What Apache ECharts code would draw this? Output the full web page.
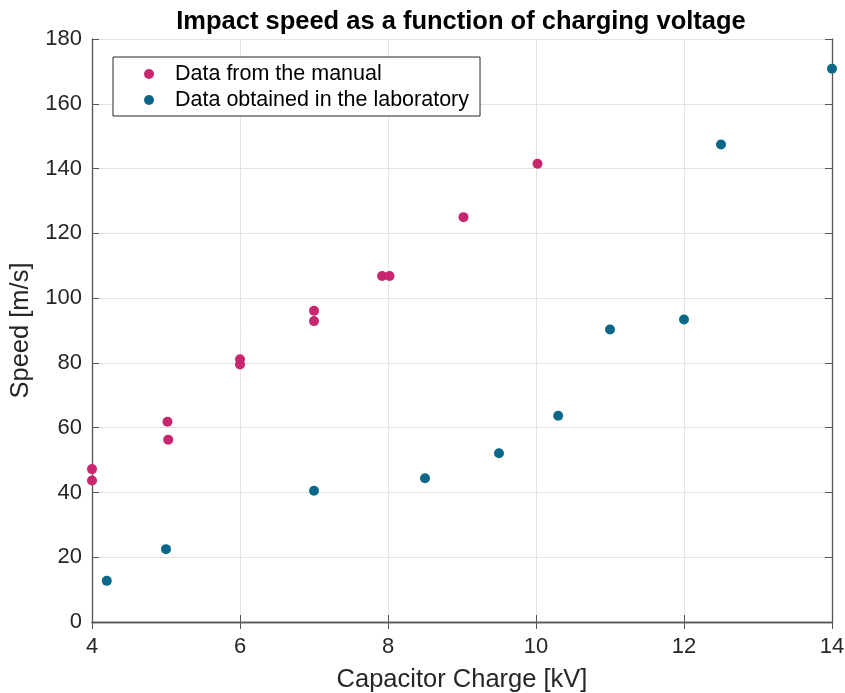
<!DOCTYPE html>
<html><head><meta charset="utf-8">
<script src="https://cdn.jsdelivr.net/npm/echarts@6/dist/echarts.min.js"></script>
<style>html,body{margin:0;padding:0;background:#fff}#c{width:845px;height:693px}</style>
</head><body><div id="c"></div>
<script>
const manualX = [4, 4, 5.02, 5.03, 6, 6, 7, 7, 7.92, 8.02, 9.02, 10.02];
const manualY = [47.2, 43.7, 61.8, 56.3, 81.1, 79.5, 96.1, 92.9, 106.8, 106.8, 125, 141.5];
const labX = [4.2, 5, 7, 8.5, 9.5, 10.3, 11, 12, 12.5, 14];
const labY = [12.7, 22.5, 40.5, 44.4, 52.1, 63.7, 90.3, 93.4, 147.4, 170.8];
const xTicks = [4, 6, 8, 10, 12, 14];
const yTicks = [0, 20, 40, 60, 80, 100, 120, 140, 160, 180];
const seriesNames = ['Data from the manual', 'Data obtained in the laboratory'];

const FONT = 'Liberation Sans';
const axisCol = '#555555';
const chart = echarts.init(document.getElementById('c'), null, {renderer: 'canvas'});
const pair = (xs, ys) => xs.map((x, i) => [x, ys[i]]);
const baseAxis = {
  axisLine: {show: true, lineStyle: {color: axisCol, width: 1.3}},
  axisTick: {show: true, inside: true, length: 7, lineStyle: {color: axisCol}},
};
chart.setOption({
  backgroundColor: '#fff',
  animation: false,
  title: {
    text: 'Impact speed as a function of charging voltage',
    left: 456, top: 4, textAlign: 'center',
    textStyle: {fontFamily: FONT, fontWeight: 'bold', fontSize: 25.5, color: '#000'}
  },
  legend: {
    left: 113, top: 57, orient: 'vertical',
    padding: [6, 11, 5, 31],
    itemGap: 4,
    borderColor: '#262626', borderWidth: 1,
    backgroundColor: '#fff',
    icon: 'circle', itemWidth: 10, itemHeight: 10,
    textStyle: {fontFamily: FONT, fontSize: 21.5, color: '#000', padding: [0, 0, 0, 16]},
    data: seriesNames
  },
  grid: {left: 92, right: 13, top: 39, bottom: 71, containLabel: false, outerBoundsMode: 'none'},
  xAxis: [
    Object.assign({}, baseAxis, {
      type: 'value', min: 4, max: 14, interval: 2,
      name: 'Capacitor Charge [kV]', nameLocation: 'middle', nameGap: 45,
      nameTextStyle: {fontFamily: FONT, fontSize: 25.5, color: '#262626'},
      axisLabel: {fontFamily: FONT, fontSize: 22, color: '#262626', margin: 14,
        formatter: v => xTicks.includes(v) ? String(v) : ''},
      splitLine: {show: true, lineStyle: {color: '#e3e3e3', width: 1}}
    }),
    Object.assign({}, baseAxis, {
      type: 'value', min: 4, max: 14, interval: 2, position: 'top',
      axisLabel: {show: false}, splitLine: {show: false}
    })
  ],
  yAxis: [
    Object.assign({}, baseAxis, {
      type: 'value', min: 0, max: 180, interval: 20,
      name: 'Speed [m/s]', nameLocation: 'middle', nameGap: 57,
      nameTextStyle: {fontFamily: FONT, fontSize: 25.5, color: '#262626'},
      axisLabel: {fontFamily: FONT, fontSize: 22, color: '#262626', margin: 10,
        formatter: v => yTicks.includes(v) ? String(v) : ''},
      splitLine: {show: true, lineStyle: {color: '#e3e3e3', width: 1}}
    }),
    Object.assign({}, baseAxis, {
      type: 'value', min: 0, max: 180, interval: 20, position: 'right',
      axisLabel: {show: false}, splitLine: {show: false}
    })
  ],
  series: [
    {name: seriesNames[0], type: 'scatter', symbol: 'circle', symbolSize: 10,
     itemStyle: {color: '#c9266f', opacity: 1}, data: pair(manualX, manualY), z: 3},
    {name: seriesNames[1], type: 'scatter', symbol: 'circle', symbolSize: 10,
     itemStyle: {color: '#0b6788', opacity: 1}, data: pair(labX, labY), z: 3}
  ]
});
</script></body></html>
